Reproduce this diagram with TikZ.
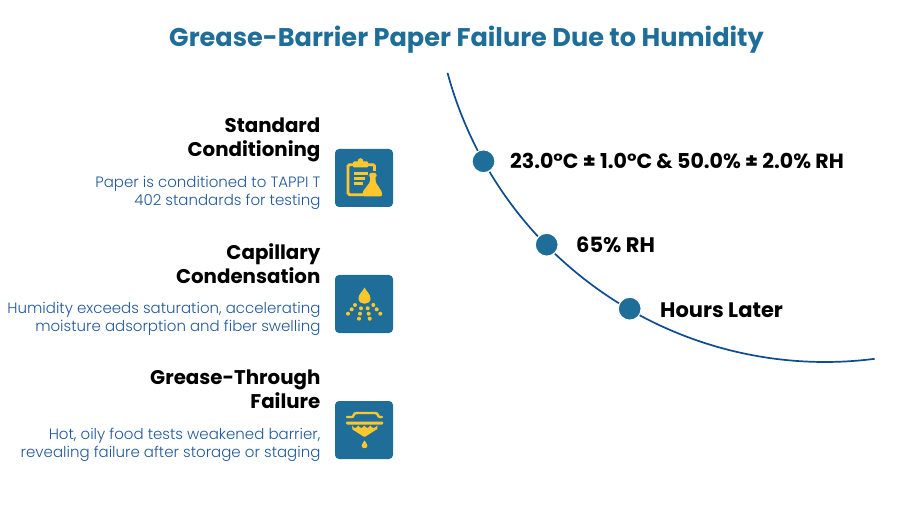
\documentclass[tikz,border=0pt]{standalone}
\usepackage{fontspec}
\setmainfont{Poppins}
\newfontfamily\lightfont{Poppins Light}
\definecolor{boxblue}{HTML}{1F6E99}
\definecolor{curveblue}{HTML}{0F4C8F}
\definecolor{descblue}{HTML}{20589A}
\definecolor{iconyellow}{HTML}{FFC72C}
\tikzset{
 heading/.style={anchor=north east,align=right,inner sep=0pt,font=\fontsize{19.8}{24}\selectfont\bfseries,text=black},
 desc/.style={anchor=north east,align=right,inner sep=0pt,font=\lightfont\fontsize{15}{18}\selectfont,text=descblue},
 label/.style={anchor=west,inner sep=0pt,font=\fontsize{20.5}{23}\selectfont\bfseries,text=black},
 dot/.style={circle,fill=boxblue,draw=white,line width=1.2pt,minimum size=23pt,inner sep=0pt},
 iconbox/.style={fill=boxblue,rounded corners=4pt},
 ibar/.style={draw=iconyellow,line width=2.8pt},
}
\newcommand{\iconbg}{\fill[iconbox] (0,0) rectangle (58,58);}
\begin{document}
\begin{tikzpicture}[x=1pt,y=-1pt]
\useasboundingbox (0,0) rectangle (899,521);
\node[anchor=center,inner sep=0pt,font=\fontsize{25.6}{30}\selectfont\bfseries,text=boxblue] (title) at (466.5,40) {Grease-Barrier Paper Failure Due to Humidity};
\draw[curveblue,line width=1.7pt] plot[domain=164.9:82.7,samples=80,smooth] ({825+391*cos(\x)},{-29+391*sin(\x)});
\node[dot] (d1) at (483.5,161.3) {};
\node[dot] (d2) at (546.7,244.7) {};
\node[dot] (d3) at (629.7,308.7) {};
\node[label] (l1) at (510,160.5) {23.0°C ± 1.0°C \& 50.0\% ± 2.0\% RH};
\node[label,font=\fontsize{21}{23}\selectfont\bfseries] (l2) at (576,244.5) {65\% RH};
\node[label,font=\fontsize{21}{23}\selectfont\bfseries] (l3) at (660,310.5) {Hours Later};
\node[heading] (h1) at (320.6,117.5) {Standard\\Conditioning};
\node[desc] (t1) at (320.6,175.8) {Paper is conditioned to TAPPI T\\402 standards for testing};
\node[heading] (h2) at (320.6,243.2) {Capillary\\Condensation};
\node[desc] (t2) at (320.6,301.8) {Humidity exceeds saturation, accelerating\\moisture adsorption and fiber swelling};
\node[heading] (h3) at (320.6,369.5) {Grease-Through\\Failure};
\node[desc] (t3) at (320.6,427.8) {Hot, oily food tests weakened barrier,\\revealing failure after storage or staging};
% icon 1
\begin{scope}[shift={(335,149)}]
\iconbg
\draw[ibar,rounded corners=1.5pt] (39.5,22) -- (39.5,15.7) -- (13,15.7) -- (13,45.7) -- (28,45.7);
\fill[iconyellow,rounded corners=1pt] (18,12.5) rectangle (33,18.5);
\fill[iconyellow] (25.5,12) circle (2.8);
\draw[iconyellow,line width=2.2pt] (19.3,24.5) -- (33,24.5) (19.3,29.5) -- (30,29.5) (19.3,34.5) -- (28,34.5);
\fill[iconyellow,rounded corners=1.5pt] (34,24) -- (41.5,24) -- (41.5,26.5) -- (40.5,26.5) -- (40.5,33) -- (47,43) -- (47,47.5) -- (27.5,47.5) -- (27.5,43) -- (35,33) -- (35,26.5) -- (34,26.5) -- cycle;
\end{scope}
% icon 2
\begin{scope}[shift={(335,275)}]
\iconbg
\fill[iconyellow] (29.5,12.5) .. controls (31,16) and (35.5,19) .. (35.5,23.5) .. controls (35.5,30.5) and (23.5,30.5) .. (23.5,23.5) .. controls (23.5,19) and (28,16) .. (29.5,12.5) -- cycle;
\foreach \p in {(20,30),(38.3,30),(16.7,34.3),(26,33.3),(32.7,33.3),(41.7,34.3),(13,38.7),(25,38.7),(33.7,38.7),(45.3,38.7),(24,43.7),(34.7,43.7)}
 \fill[iconyellow] \p circle (2);
\end{scope}
% icon 3
\begin{scope}[shift={(335,401)}]
\iconbg
\draw[iconyellow,line width=2.4pt,line cap=round] (12,16) -- (17,16) .. controls (19,16) and (18,12) .. (21.5,12) -- (40,12) .. controls (43.5,12) and (42.5,16) .. (45,16) -- (47,16);
\fill[iconyellow,rounded corners=1pt] (11,20.5) rectangle (48,23.5);
\fill[iconyellow] (17,24.5) .. controls (18,26.5) and (19,27) .. (20.3,27) .. controls (21.5,27) and (22.5,25.5) .. (23.3,24.5) .. controls (24.3,25.5) and (25.2,27) .. (26.3,27) .. controls (27.5,27) and (28.5,25.5) .. (29.3,24.5) .. controls (30.3,25.5) and (31.2,27) .. (32.3,27) .. controls (33.5,27) and (34.5,25.5) .. (35.3,24.5) .. controls (36.3,25.5) and (37.2,27) .. (38.3,27) .. controls (39.5,27) and (41,26) .. (42.3,24.5) -- (42.3,28) -- (30.5,35.5) -- (28.5,35.5) -- (17.5,28.5) -- cycle;
\fill[iconyellow] (29.5,39.5) .. controls (30.2,41.5) and (32.4,42.5) .. (32.4,44.7) .. controls (32.4,48) and (26.6,48) .. (26.6,44.7) .. controls (26.6,42.5) and (28.8,41.5) .. (29.5,39.5) -- cycle;
\end{scope}
\end{tikzpicture}
\end{document}
